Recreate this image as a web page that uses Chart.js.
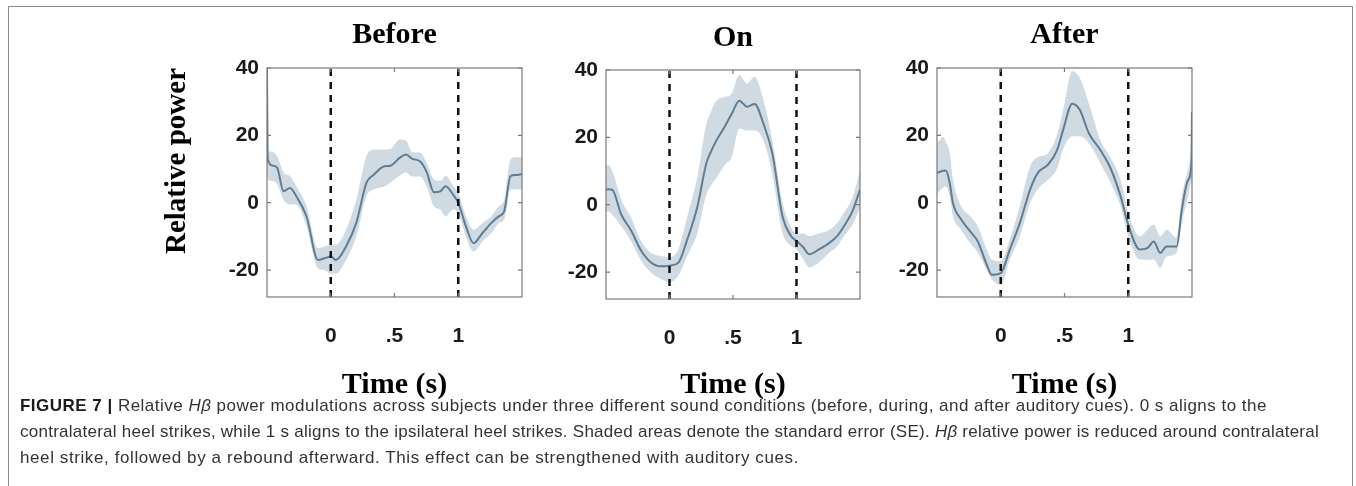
<!DOCTYPE html>
<html>
<head>
<meta charset="utf-8">
<script src="https://cdn.jsdelivr.net/npm/chart.js@4.4.1/dist/chart.umd.min.js"></script>
<style>
body { margin: 0; background: #fff; width: 1356px; height: 486px; overflow: hidden; position: relative; }
.frame { position: absolute; left: 8px; top: 6px; width: 1343px; height: 500px; border: 1.5px solid #8c8c8c; border-bottom: none; }
.panel { position: absolute; top: 0; }
.caption { position: absolute; left: 20px; top: 393px; font-family: "Liberation Sans", Arial, sans-serif; font-size: 17px; line-height: 26px; color: #333; white-space: nowrap; }
.caption span { display: inline-block; }
.caption b { color: #1a1a1a; }
</style>
</head>
<body>
<div class="frame"></div>
<canvas id="before" class="panel" width="370" height="407" style="left:156px"></canvas>
<canvas id="on" class="panel" width="318" height="407" style="left:546px"></canvas>
<canvas id="after" class="panel" width="319" height="407" style="left:877px"></canvas>
<div class="caption">
<div><span data-w="1247"><b>FIGURE 7 |</b> Relative <i>Hβ</i> power modulations across subjects under three different sound conditions (before, during, and after auditory cues). 0 s aligns to the</span></div>
<div><span data-w="1299">contralateral heel strikes, while 1 s aligns to the ipsilateral heel strikes. Shaded areas denote the standard error (SE). <i>Hβ</i> relative power is reduced around contralateral</span></div>
<div><span data-w="779">heel strike, followed by a rebound afterward. This effect can be strengthened with auditory cues.</span></div>
</div>
<script>
// shared axis settings
const xTicks = [0, 0.5, 1];
const xTickLabels = ['0', '.5', '1'];
const yTicks = [-20, 0, 20, 40];
const yMin = -28, yMax = 40;
const strikeTimes = [0, 1];

// Before
const beforeTime = [-0.5, -0.495, -0.45, -0.42, -0.37, -0.32, -0.27, -0.19, -0.10, -0.05, 0.0, 0.04, 0.12, 0.20, 0.28, 0.34, 0.42, 0.47, 0.54, 0.59, 0.64, 0.70, 0.75, 0.81, 0.86, 0.90, 0.96, 1.0, 1.06, 1.12, 1.19, 1.26, 1.32, 1.36, 1.41, 1.45, 1.5];
const beforeMean = [40, 13, 11, 10.4, 3.4, 4.4, 1.9, -4.1, -17, -16.5, -16, -17, -13, -6, 5.9, 8.4, 10.8, 11, 13.3, 14.3, 13, 12.3, 9.3, 3.1, 3.4, 4.9, 2.4, 0, -7, -12, -9, -6, -4, -2.6, 7.9, 8.2, 8.5];
const beforeUpper = [16, 15.5, 15, 13.8, 9, 7.9, 4.9, -1, -13.5, -13, -12.5, -12.5, -8, 0.9, 13.8, 15.8, 15.8, 16, 18.8, 18.5, 15, 14.9, 12, 6.9, 6.5, 8, 5, 3, -4, -8, -6, -4, -1, 0.9, 12.8, 13.5, 13.5];
const beforeLower = [8, 7, 6.4, 5.5, 0.9, -0.5, -0.6, -7, -19.5, -20, -21, -21, -17, -10, 1.9, 4, 4.8, 6, 8, 9, 7.8, 7.8, 5, -1.1, -2, -4, -2, -3, -10, -14.5, -11.5, -9, -6, -5, 3.9, 4, 4];

// On
const onTime = [-0.5, -0.48, -0.45, -0.38, -0.30, -0.23, -0.15, -0.07, 0.0, 0.07, 0.14, 0.22, 0.29, 0.32, 0.37, 0.44, 0.49, 0.55, 0.61, 0.67, 0.74, 0.81, 0.89, 0.95, 1.0, 1.05, 1.10, 1.18, 1.26, 1.32, 1.38, 1.44, 1.5];
const onMean = [4.5, 4.6, 4.4, -2.9, -7.8, -13.2, -17, -18.3, -18.1, -17.2, -10.3, -0.5, 12.3, 15.2, 19.1, 23.5, 27, 30.9, 29.1, 29.9, 24, 15.2, -3.5, -8.9, -10.8, -12.5, -14.7, -13.2, -11.3, -9.3, -6, -2, 4.5];
const onUpper = [11.5, 11.8, 10, 1.5, -4, -10.3, -14.2, -15.2, -15.5, -13.2, -3.5, 8.4, 24, 27, 31, 32, 33, 38.5, 36, 38, 31, 19, 0.6, -6, -8.8, -8.5, -9.3, -8.5, -7.4, -5.4, -2, 2, 10];
const onLower = [-2, -2, -3, -6.4, -11, -16.2, -20, -22, -23, -21, -15.2, -8.4, 3, 5.3, 8, 12, 14, 22.6, 22, 22, 19, 9, -8.3, -12, -13.2, -16, -18.6, -17, -14.2, -12.3, -9, -6, -1];

// After
const afterTime = [-0.5, -0.49, -0.45, -0.43, -0.40, -0.375, -0.31, -0.24, -0.18, -0.11, -0.07, 0.0, 0.07, 0.15, 0.23, 0.29, 0.37, 0.44, 0.49, 0.56, 0.62, 0.69, 0.78, 0.86, 0.94, 1.0, 1.09, 1.15, 1.20, 1.25, 1.30, 1.38, 1.42, 1.47, 1.495, 1.5];
const afterMean = [8.8, 9, 9.5, 9.6, 5.8, -0.1, -5, -8.5, -11.5, -18.4, -21.4, -20.9, -14, -6, 3.9, 8.8, 11.3, 15.5, 21.7, 29.4, 27.6, 20.7, 15.7, 10.3, 1.9, -6.5, -13.9, -13.5, -11.5, -14.9, -13, -13, -2.1, 6.8, 11, 27];
const afterUpper = [17.5, 18, 19.6, 18, 14.8, 6.8, -1.1, -4, -7, -14, -16.9, -17.4, -11, -1, 10.8, 13.5, 14.7, 20, 27.6, 39, 37, 29.6, 18.7, 13.5, 6.8, -3, -10, -8, -6.5, -10, -8, -10.4, 1.9, 10, 13.8, 13.8];
const afterLower = [2.5, 3, 4.5, 4.8, 1.9, -4, -8, -12, -14.8, -20, -22.8, -24.3, -17, -10, -0.1, 4, 6.8, 10, 16, 19.7, 19.7, 17.7, 11.8, 6, -1.1, -10, -16.9, -17, -16.9, -19.4, -16, -14.8, -6, 2, 6, 6];

const lineColor = '#5f7d92';
const bandColor = 'rgba(200,212,222,0.85)';

// fit each caption line to the width it has in the figure
document.querySelectorAll('.caption span[data-w]').forEach(el => {
  const extra = Number(el.dataset.w) - el.getBoundingClientRect().width;
  el.style.letterSpacing = (extra / el.textContent.length).toFixed(3) + 'px';
});

// box around the plot + small inward ticks, matlab style
const boxPlugin = {
  id: 'box',
  afterDatasetsDraw(chart) {
    const { ctx, chartArea: a, scales } = chart;
    ctx.save();
    ctx.strokeStyle = '#7a7a7a';
    ctx.lineWidth = 1.2;
    ctx.strokeRect(a.left, a.top, a.right - a.left, a.bottom - a.top);
    ctx.beginPath();
    scales.x.ticks.forEach(t => {
      const px = scales.x.getPixelForValue(t.value);
      ctx.moveTo(px, a.bottom); ctx.lineTo(px, a.bottom - 4);
      ctx.moveTo(px, a.top); ctx.lineTo(px, a.top + 4);
    });
    scales.y.ticks.forEach(t => {
      const py = scales.y.getPixelForValue(t.value);
      ctx.moveTo(a.left, py); ctx.lineTo(a.left + 4, py);
      ctx.moveTo(a.right, py); ctx.lineTo(a.right - 4, py);
    });
    ctx.stroke();
    ctx.restore();
  }
};

function toPoints(t, v) {
  return t.map((x, i) => ({ x: x, y: v[i] }));
}

function makePanel(id, title, t, mean, upper, lower, o) {
  const datasets = [
    { data: toPoints(t, upper), borderWidth: 0, pointRadius: 0, backgroundColor: bandColor, fill: '+1', cubicInterpolationMode: 'monotone', order: 2 },
    { data: toPoints(t, lower), borderWidth: 0, pointRadius: 0, backgroundColor: bandColor, fill: false, cubicInterpolationMode: 'monotone', order: 2 },
    { data: toPoints(t, mean), borderColor: lineColor, borderWidth: 2, pointRadius: 0, fill: false, cubicInterpolationMode: 'monotone', order: 1 }
  ];
  strikeTimes.forEach(s => {
    datasets.push({ data: [{ x: s, y: yMin }, { x: s, y: yMax }], borderColor: '#111', borderWidth: 2.5,
      borderDash: [7, 6], pointRadius: 0, fill: false, order: 0 });
  });
  return new Chart(document.getElementById(id), {
    type: 'line',
    data: { datasets: datasets },
    options: {
      responsive: false,
      animation: false,
      layout: { padding: { left: 0, right: 4, top: 0, bottom: 0 } },
      plugins: {
        legend: { display: false },
        tooltip: { enabled: false },
        title: {
          display: true, text: title, color: '#000', fullSize: false,
          font: { family: 'Liberation Serif', weight: 'bold', size: 30, lineHeight: 1.2 },
          padding: { top: o.titleTop, bottom: o.titleBottom }
        }
      },
      scales: {
        x: {
          type: 'linear', min: -0.5, max: 1.5,
          afterBuildTicks: s => { s.ticks = xTicks.map(v => ({ value: v })); },
          afterFit: s => { s.height = o.xHeight; },
          grid: { display: false, drawTicks: false },
          border: { display: false },
          ticks: {
            padding: 27, color: '#1a1a1a', maxRotation: 0,
            font: { family: 'Liberation Sans', weight: 'bold', size: 21 },
            callback: v => xTickLabels[xTicks.indexOf(v)]
          },
          title: {
            display: true, text: 'Time (s)', color: '#000', padding: { top: 4, bottom: 4 },
            font: { family: 'Liberation Serif', weight: 'bold', size: 30, lineHeight: 1.2 }
          }
        },
        y: {
          min: yMin, max: yMax,
          afterBuildTicks: s => { s.ticks = yTicks.map(v => ({ value: v })); },
          afterFit: s => { s.width = o.yWidth; },
          grid: { display: false, drawTicks: false },
          border: { display: false },
          ticks: {
            padding: 8, color: '#1a1a1a',
            font: { family: 'Liberation Sans', weight: 'bold', size: 21 }
          },
          title: {
            display: o.yTitle, text: 'Relative power', color: '#000', align: 'end', padding: { top: 4, bottom: 4 },
            font: { family: 'Liberation Serif', weight: 'bold', size: 29, lineHeight: 1.2 }
          }
        }
      }
    },
    plugins: [boxPlugin]
  });
}

makePanel('before', 'Before', beforeTime, beforeMean, beforeUpper, beforeLower,
  { yWidth: 111, xHeight: 110, titleTop: 17, titleBottom: 15, yTitle: true });
makePanel('on', 'On', onTime, onMean, onUpper, onLower,
  { yWidth: 60, xHeight: 108, titleTop: 20, titleBottom: 14, yTitle: false });
makePanel('after', 'After', afterTime, afterMean, afterUpper, afterLower,
  { yWidth: 60, xHeight: 110, titleTop: 17, titleBottom: 15, yTitle: false });
</script>
</body>
</html>
